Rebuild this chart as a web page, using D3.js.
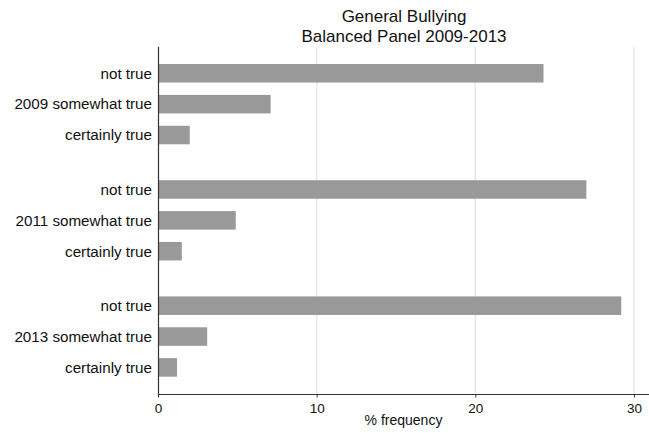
<!DOCTYPE html>
<html>
<head>
<meta charset="utf-8">
<script src="https://cdn.jsdelivr.net/npm/d3@7"></script>
<style>
  html, body { margin: 0; padding: 0; background: #fff; }
  svg { display: block; font-family: "Liberation Sans", Arial, Helvetica, sans-serif; }
</style>
</head>
<body>
<svg id="chart" width="649" height="433"></svg>
<script>
// ---- data ----
const years = ["2009", "2011", "2013"];
const responses = ["not true", "somewhat true", "certainly true"];
const values2009 = [24.3, 7.1, 2.0];
const values2011 = [27.0, 4.9, 1.5];
const values2013 = [29.2, 3.1, 1.2];
const xTicks = [0, 10, 20, 30];
const titleLines = ["General Bullying", "Balanced Panel 2009-2013"];
const xTitle = "% frequency";

const seriesByYear = [values2009, values2011, values2013];
const rows = [];
years.forEach((yr, g) => responses.forEach((r, i) => rows.push({year: yr, response: r, value: seriesByYear[g][i], middle: i === 1})));

// ---- layout ----
const svg = d3.select("#chart");
const W = 649, H = 433;
const plotLeft = 158, plotTop = 46.7, plotBottom = 394;

const x = d3.scaleLinear().domain([0, 30.95]).range([plotLeft, W]);
const yGroup = d3.scaleBand().domain(years).range([plotTop, plotBottom]).paddingInner(0.203).paddingOuter(0.096);
const yRow = d3.scaleBand().domain(responses).range([0, yGroup.bandwidth()]).paddingInner(0.4).paddingOuter(0.2);

// gridlines
svg.append("g").selectAll("line").data(xTicks.filter(d => d > 0)).join("line")
  .attr("x1", d => x(d)).attr("x2", d => x(d))
  .attr("y1", plotTop).attr("y2", plotBottom)
  .attr("stroke", "#e8e8e8").attr("stroke-width", 1.5);

// bars
svg.append("g").selectAll("rect").data(rows).join("rect")
  .attr("x", x(0))
  .attr("y", d => yGroup(d.year) + yRow(d.response))
  .attr("width", d => x(d.value) - x(0))
  .attr("height", yRow.bandwidth())
  .attr("fill", "#999999");

// row labels
svg.append("g").selectAll("text").data(rows).join("text")
  .attr("x", plotLeft - 6)
  .attr("y", d => yGroup(d.year) + yRow(d.response) + yRow.bandwidth() / 2)
  .attr("dy", "0.35em")
  .attr("text-anchor", "end")
  .attr("font-size", 15.2)
  .attr("fill", "#111")
  .text(d => d.middle ? d.year + " " + d.response : d.response);

// x axis
const xAxis = d3.axisBottom(x).tickValues(xTicks).tickSize(3.5).tickPadding(6).tickFormat(d3.format("d"));
const ax = svg.append("g").attr("transform", `translate(0,${plotBottom})`).call(xAxis);
ax.select(".domain").attr("stroke", "#333").attr("d", `M${plotLeft},0.5H${W}`);
ax.selectAll(".tick line").attr("stroke", "#333");
ax.selectAll(".tick text").attr("font-size", 13.5).attr("fill", "#111")
  .attr("font-family", "'Liberation Sans', Arial, sans-serif");

// y axis line
svg.append("line").attr("x1", plotLeft + 0.5).attr("x2", plotLeft + 0.5)
  .attr("y1", plotTop).attr("y2", plotBottom + 1).attr("stroke", "#333").attr("stroke-width", 1.2);

// axis title
svg.append("text").attr("x", (plotLeft + W) / 2).attr("y", 425)
  .attr("text-anchor", "middle").attr("font-size", 14).attr("fill", "#111").text(xTitle);

// title
svg.append("g").selectAll("text").data(titleLines).join("text")
  .attr("x", 404).attr("y", (d, i) => 22 + i * 20)
  .attr("text-anchor", "middle").attr("font-size", 17).attr("fill", "#111")
  .text(d => d);
</script>
</body>
</html>
